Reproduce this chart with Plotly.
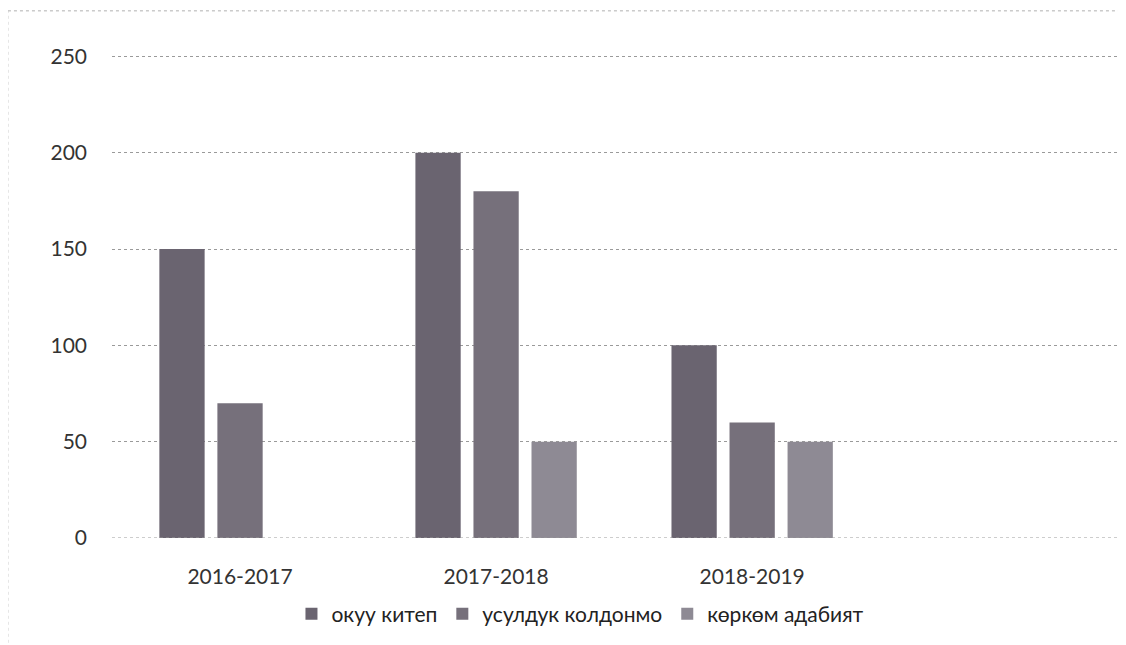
import plotly.graph_objects as go

categories = ["2016-2017", "2017-2018", "2018-2019"]
series_names = ["окуу китеп", "усулдук колдонмо", "көркөм адабият"]
okuu_kitep = [150, 200, 100]
usulduk_koldonmo = [70, 180, 60]
korkom_adabiyat = [None, 50, 50]
y_ticks = [0, 50, 100, 150, 200, 250]

colors = ["#6a6470", "#76707b", "#8e8a94"]
values = [okuu_kitep, usulduk_koldonmo, korkom_adabiyat]

fig = go.Figure()
for name, vals, c in zip(series_names, values, colors):
    fig.add_trace(go.Bar(x=categories, y=vals, name=name,
                         marker=dict(color=c, line=dict(width=0))))

font_family = "Lato, 'Open Sans', sans-serif"
# page body has an 8px margin, so the figure is offset by (8, 8) in the window
fig.update_layout(
    width=1118, height=637,
    paper_bgcolor="white", plot_bgcolor="white",
    margin=dict(l=104, r=0, t=6, b=107),
    barmode="group", bargap=0.32, bargroupgap=0.22,
    font=dict(family=font_family, size=21, color="#333333"),
    showlegend=True,
    legend=dict(orientation="h", x=0.462, xanchor="center", y=-0.145, yanchor="middle",
                font=dict(size=21, color="#222222"), itemwidth=30, traceorder="normal"),
    xaxis=dict(type="category", range=[-0.5, 3.46], showgrid=False, showline=False,
               zeroline=False, ticks="", ticklabelstandoff=24,
               tickfont=dict(size=21, color="#333333")),
    yaxis=dict(range=[0, 272], tickvals=y_ticks, showgrid=True, gridcolor="#9a9a9a",
               griddash="dot", gridwidth=1, zeroline=False, showline=False, ticks="",
               ticklabelstandoff=24, tickfont=dict(size=21, color="#333333")),
    shapes=[
        dict(type="line", xref="paper", yref="paper", x0=-0.1026, x1=1.0, y0=1.006, y1=1.006,
             line=dict(color="#b0b0b0", width=1, dash="dot")),
        dict(type="line", xref="paper", yref="y", x0=0, x1=1.0, y0=0, y1=0,
             line=dict(color="#9a9a9a", width=1, dash="dot")),
        dict(type="line", xref="paper", yref="paper", x0=-0.1026, x1=-0.1026, y0=-0.2, y1=1.006,
             line=dict(color="#c8c8c8", width=1, dash="dot")),
    ],
)

fig.write_html("out.html")
